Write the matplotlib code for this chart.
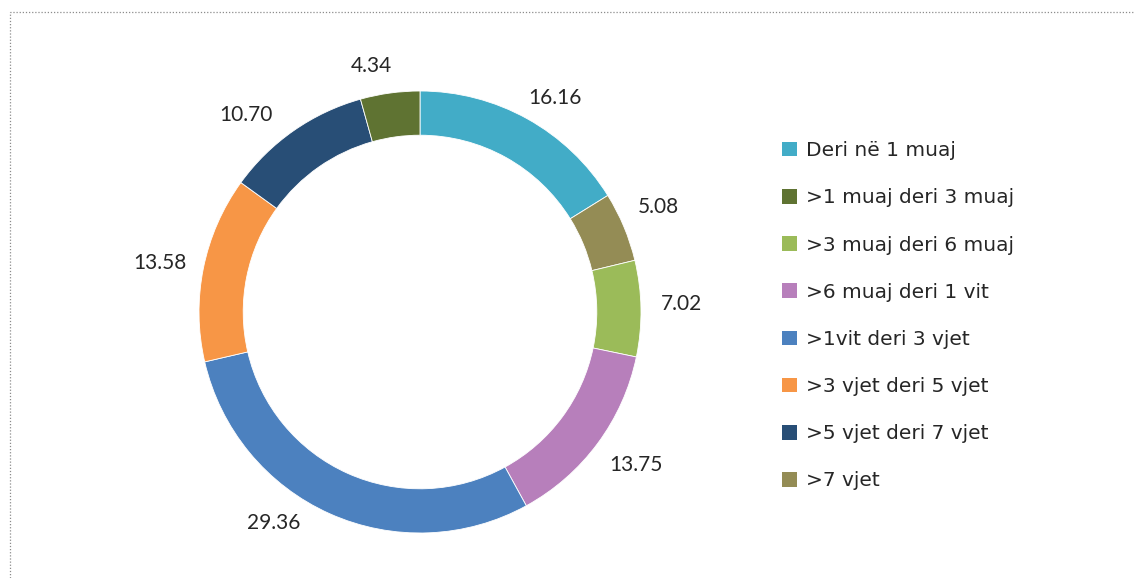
import numpy as np
import matplotlib
matplotlib.use("Agg")
import matplotlib.pyplot as plt
from matplotlib.patches import Patch, Rectangle

# slices, clockwise from 12 o'clock, as drawn in the ring
ring_labels = ['Deri në 1 muaj', '>7 vjet', '>3 muaj deri 6 muaj', '>6 muaj deri 1 vit',
               '>1vit deri 3 vjet', '>3 vjet deri 5 vjet', '>5 vjet deri 7 vjet',
               '>1 muaj deri 3 muaj']
ring_values = [16.16, 5.08, 7.02, 13.75, 29.36, 13.58, 10.70, 4.34]

# legend order
legend_labels = ['Deri në 1 muaj', '>1 muaj deri 3 muaj', '>3 muaj deri 6 muaj',
                 '>6 muaj deri 1 vit', '>1vit deri 3 vjet', '>3 vjet deri 5 vjet',
                 '>5 vjet deri 7 vjet', '>7 vjet']

colors = {
    'Deri në 1 muaj': '#42ACC7',
    '>1 muaj deri 3 muaj': '#5F7332',
    '>3 muaj deri 6 muaj': '#9BBB59',
    '>6 muaj deri 1 vit': '#B77FBB',
    '>1vit deri 3 vjet': '#4C81BF',
    '>3 vjet deri 5 vjet': '#F79646',
    '>5 vjet deri 7 vjet': '#284E76',
    '>7 vjet': '#948C55',
}

# hand placement of the value labels (angle nudge in degrees, distance in radii)
label_nudge = [-3.1, 1.0, 0.8, 1.2, -10.7, 0.7, 6.5, 3.4]
label_dist = [1.145, 1.18, 1.186, 1.195, 1.162, 1.197, 1.19, 1.133]

W, H = 1135, 578
fig = plt.figure(figsize=(W / 100, H / 100), dpi=100)

# dotted frame
fig.patches.append(Rectangle((10 / W, -0.05), 1.2, (H - 12) / H + 0.05,
                             transform=fig.transFigure, fill=False,
                             edgecolor='#8c8c8c', linestyle=(0, (1, 1.5)),
                             linewidth=0.9))

cx, cy, r = 420, 312, 221
ax = fig.add_axes([(cx - r) / W, (H - cy - r) / H, 2 * r / W, 2 * r / H])
wedges, _ = ax.pie(ring_values, colors=[colors[l] for l in ring_labels],
                   startangle=90, counterclock=False, radius=1,
                   wedgeprops=dict(width=0.2, edgecolor='white', linewidth=0.6))
ax.set_xlim(-1, 1)
ax.set_ylim(-1, 1)
ax.set_aspect('equal')
ax.axis('off')

# value labels around the ring
cum = np.cumsum([0] + ring_values[:-1])
for v, c, nd, d in zip(ring_values, cum, label_nudge, label_dist):
    ang = np.deg2rad(90 - (c + v / 2) * 3.6 + nd)
    ax.text(d * np.cos(ang), d * np.sin(ang), f'{v:.2f}',
            ha='center', va='center', fontsize=15, family='Lato',
            color='#262626', clip_on=False)

handles = [Patch(facecolor=colors[l], edgecolor='none') for l in legend_labels]
leg = fig.legend(handles, legend_labels, loc='upper left',
                 bbox_to_anchor=(764 / W, (H - 123) / H), frameon=False,
                 fontsize=14.5, handlelength=0.75, handleheight=0.75,
                 handletextpad=0.45, labelspacing=1.4)
for t in leg.get_texts():
    t.set_color('#262626')

fig.savefig('out.png', dpi=100)
